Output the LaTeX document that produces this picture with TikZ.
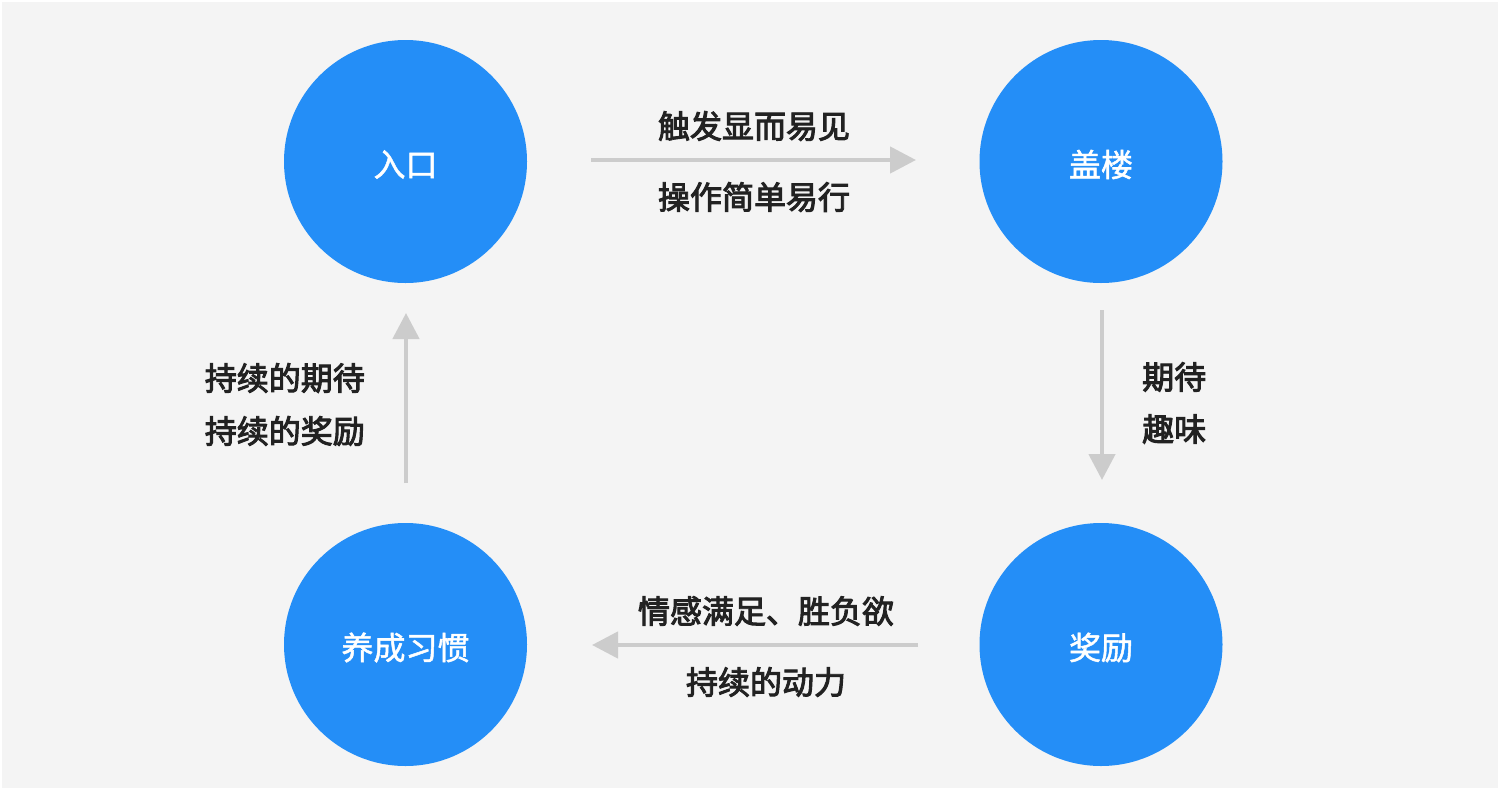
\documentclass[tikz,border=0pt]{standalone}
\usepackage{fontspec}
\newfontfamily\cjkmed{Noto Sans CJK SC}[FakeBold=1.5]
\newfontfamily\cjksemi{Noto Sans CJK SC}[FakeBold=3]
\usetikzlibrary{arrows.meta}
\definecolor{bgc}{HTML}{F4F4F4}
\definecolor{circc}{HTML}{248EF7}
\definecolor{arrc}{HTML}{CCCCCC}
\definecolor{txtc}{HTML}{222222}
\tikzset{
  stagenode/.style={circle, fill=circc, minimum size=243pt, inner sep=0pt},
  stagetext/.style={text=white, inner sep=0pt, font=\cjkmed\fontsize{32pt}{38pt}\selectfont},
  labeltext/.style={text=txtc, inner sep=0pt, font=\cjksemi\fontsize{32pt}{38pt}\selectfont},
  flowarrow/.style={draw=arrc, line width=4.5pt, -{Triangle[width=26pt,length=26pt]}}
}
\begin{document}
\begin{tikzpicture}[x=1pt,y=-1pt]
\useasboundingbox (0,0) rectangle (1500,790);
\fill[white] (0,0) rectangle (1500,790);
\fill[bgc] (2,2) rectangle (1498,788);

\node[stagenode] (entry) at (405.5,161.5) {};
\node[stagenode] (floor) at (1101,161.5) {};
\node[stagenode] (habit) at (405.5,644.5) {};
\node[stagenode] (reward) at (1101,644.5) {};
\node[stagetext] (entryt) at ([yshift=-3pt]entry.center) {入口};
\node[stagetext] (floort) at ([yshift=-3pt]floor.center) {盖楼};
\node[stagetext] (habitt) at ([yshift=-3pt]habit.center) {养成习惯};
\node[stagetext] (rewardt) at ([yshift=-3pt]reward.center) {奖励};

\coordinate (a1s) at (591,160);
\coordinate (a1e) at (916,160);
\coordinate (a2s) at (1102,310);
\coordinate (a2e) at (1102,480);
\coordinate (a3s) at (918,645);
\coordinate (a3e) at (592,645);
\coordinate (a4s) at (406,483);
\coordinate (a4e) at (406,313);

\draw[flowarrow] (a1s) -- (a1e);
\draw[flowarrow] (a2s) -- (a2e);
\draw[flowarrow] (a3s) -- (a3e);
\draw[flowarrow] (a4s) -- (a4e);

\node[labeltext] (t1) at (754,126) {触发显而易见};
\node[labeltext] (t2) at (754,197) {操作简单易行};
\node[labeltext, anchor=west] (r1) at (1142,377) {期待};
\node[labeltext, anchor=west] (r2) at (1142,429) {趣味};
\node[labeltext] (b1) at (766,611) {情感满足、胜负欲};
\node[labeltext] (b2) at (766,682) {持续的动力};
\node[labeltext, anchor=east] (l1) at (365,378) {持续的期待};
\node[labeltext, anchor=east] (l2) at (365,431) {持续的奖励};
\end{tikzpicture}
\end{document}
